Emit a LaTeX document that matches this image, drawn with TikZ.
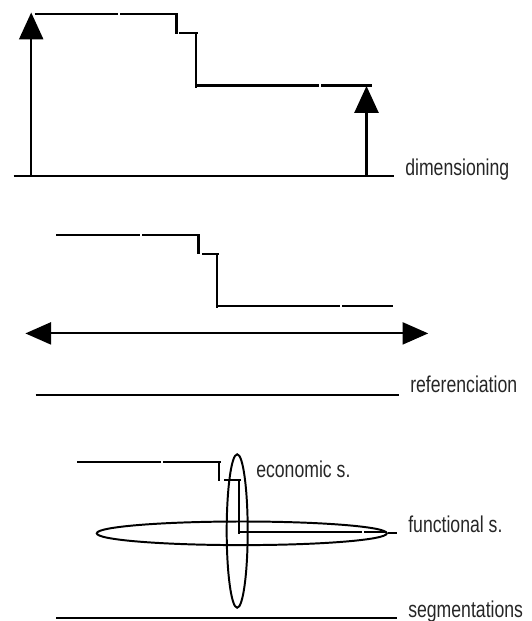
\documentclass[tikz,border=0pt]{standalone}
\usepackage{fontspec}
\usepackage{tikz}
\usetikzlibrary{arrows.meta}
\usetikzlibrary{shapes.geometric}
\newfontfamily\labelfont[FakeStretch=0.77]{Liberation Sans}

\tikzset{
    profile/.style={line width=1.5pt},
    baseline/.style={line width=1.5pt},
    measure/.style={line width=1.5pt, -{Triangle[length=0.67cm, width=0.6cm]}},
    span/.style={line width=1.5pt, {Triangle[length=0.64cm, width=0.55cm]}-{Triangle[length=0.64cm, width=0.55cm]}},
    seg/.style={draw, ellipse, line width=1.4pt, inner sep=0pt},
    tag/.style={anchor=base west, inner sep=0pt, text=black!85,
        font=\labelfont\fontsize{16.3}{19}\selectfont}
}

\begin{document}
\begin{tikzpicture}[x=0.025cm, y=-0.025cm]
    \useasboundingbox (0,0) rectangle (532,621);

    % dimensioning
    \draw[baseline] (13.6,176.4) -- (393.6,176.4);
    \node[tag] (dimtag) at (405,175) {dimensioning};
    \draw[profile] (34.6,14.3) -- (118,14.3);
    \draw[profile] (120,14.3) -- (176.5,14.3) -- (176.5,34);
    \draw[profile] (179,33.3) -- (197.5,33.3);
    \draw[profile] (196,33.3) -- (196,87.5);
    \draw[profile] (196,85.5) -- (319,85.5);
    \draw[profile] (321,85.5) -- (371.6,85.5);
    \coordinate (hiB) at (31.2,176.4);
    \coordinate (hiT) at (31.2,12.5);
    \coordinate (loB) at (366.5,176.4);
    \coordinate (loT) at (366.5,86);
    \draw[measure] (hiB) -- (hiT);
    \draw[measure] (loB) -- (loT);

    % referenciation
    \draw[profile] (56,235) -- (140,235);
    \draw[profile] (142,235) -- (198.5,235) -- (198.5,254.3);
    \draw[profile] (202,254) -- (218.9,254);
    \draw[profile] (217.2,254) -- (217.2,307.9);
    \draw[profile] (217.2,306.2) -- (340,306.2);
    \draw[profile] (342,306.2) -- (393,306.2);
    \coordinate (refL) at (25.4,333.4);
    \coordinate (refR) at (428.2,333.4);
    \draw[span] (refL) -- (refR);
    \draw[baseline] (35.6,395.1) -- (398.7,395.1);
    \node[tag] (reftag) at (410,392) {referenciation};

    % segmentations
    \draw[profile] (77.4,461.8) -- (161,461.8);
    \draw[profile] (163,461.8) -- (220.6,461.8);
    \draw[profile] (218.9,461.8) -- (218.9,481.4);
    \draw[profile] (224,480.4) -- (240.9,480.4);
    \draw[profile] (239.2,480.4) -- (239.2,534);
    \draw[profile] (239.2,532.3) -- (362,532.3);
    \draw[profile] (364,532.3) -- (386,532.3);
    \node[seg, minimum width=7.25cm, minimum height=0.59cm] (fseg) at (241.8,533.3) {};
    \node[seg, minimum width=0.525cm, minimum height=3.835cm] (eseg) at (237.2,531) {};
    \node[tag] (etag) at (256,477) {economic s.};
    \node[tag] (ftag) at (408,532) {functional s.};
    \coordinate (flead) at (397,533.3);
    \draw[line width=1.4pt] (fseg.east) -- (flead);
    \draw[baseline] (56,618) -- (397,618);
    \node[tag] (stag) at (408,617) {segmentations};
\end{tikzpicture}
\end{document}
